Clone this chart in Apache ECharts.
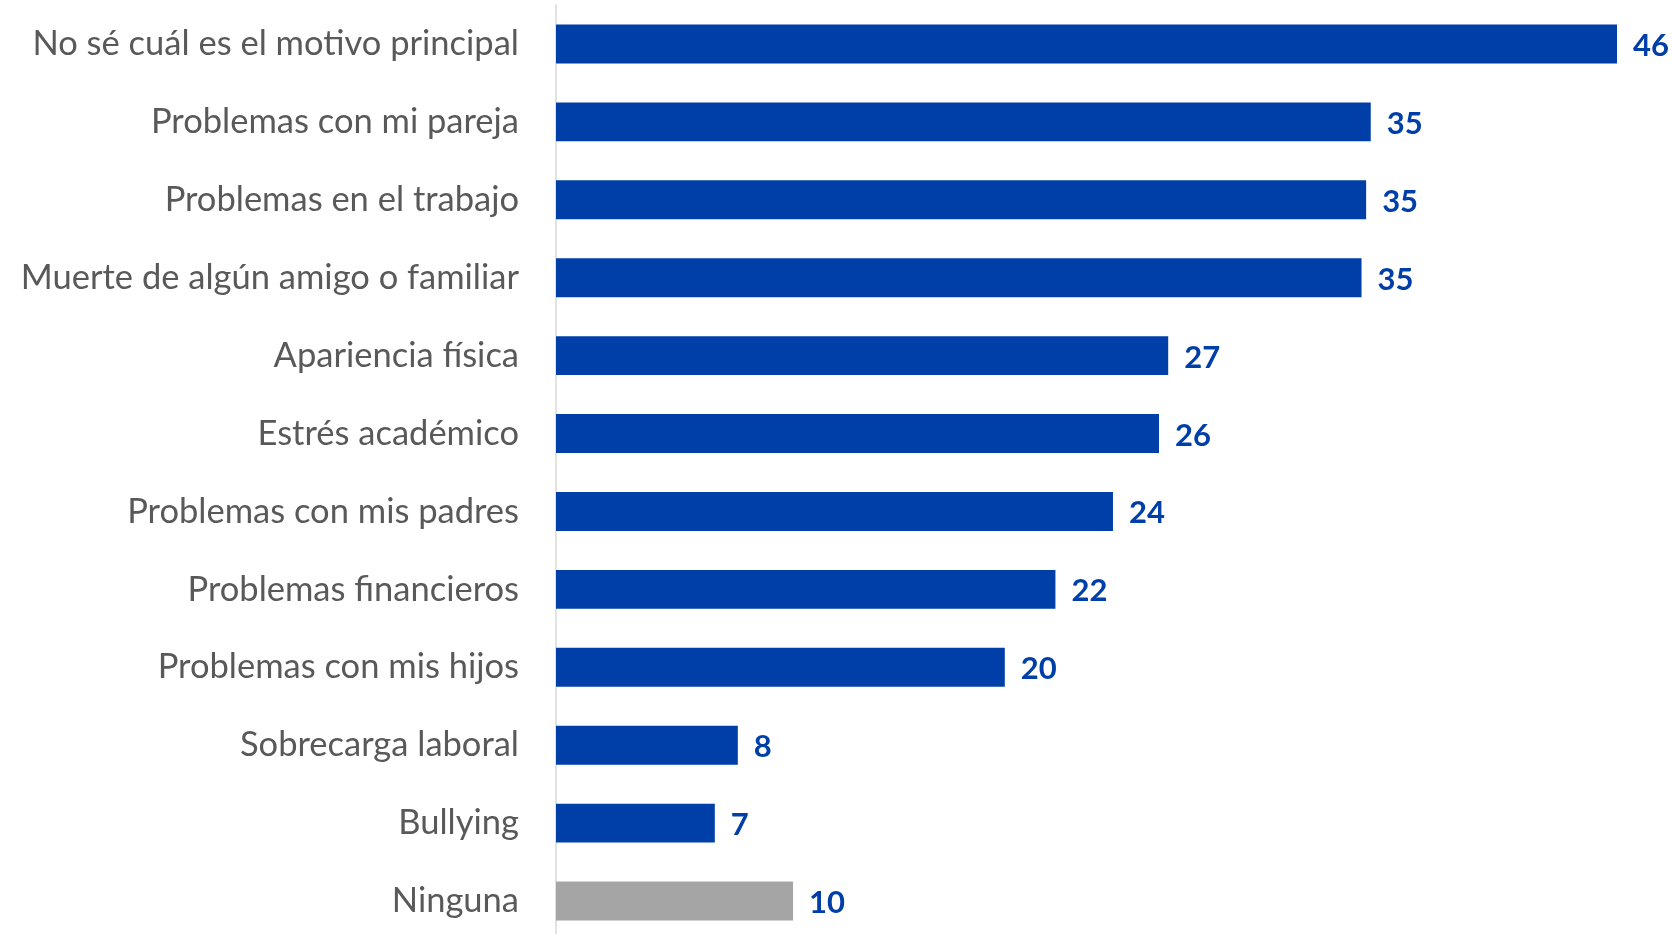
<!DOCTYPE html>
<html>
<head>
<meta charset="utf-8">
<script src="https://cdn.jsdelivr.net/npm/echarts@6/dist/echarts.min.js"></script>
<style>
html,body{margin:0;padding:0;background:#fff;}
#chart{width:1672px;height:934px;}
</style>
</head>
<body>
<div id="chart"></div>
<script>
const categories = [
  "No sé cuál es el motivo principal",
  "Problemas con mi pareja",
  "Problemas en el trabajo",
  "Muerte de algún amigo o familiar",
  "Apariencia física",
  "Estrés académico",
  "Problemas con mis padres",
  "Problemas financieros",
  "Problemas con mis hijos",
  "Sobrecarga laboral",
  "Bullying",
  "Ninguna"
];
const values = [46.1, 35.4, 35.2, 35.0, 26.6, 26.2, 24.2, 21.7, 19.5, 7.9, 6.9, 10.3];
const neutralCategory = "Ninguna";

const chart = echarts.init(document.getElementById('chart'));
chart.setOption({
  animation: false,
  backgroundColor: '#ffffff',
  grid: { left: 556, top: 5, width: 1061, height: 935, containLabel: false, outerBoundsMode: 'none' },
  xAxis: {
    type: 'value', min: 0, max: 'dataMax', show: false,
    splitLine: { show: false }
  },
  yAxis: {
    type: 'category', data: categories, inverse: true,
    axisLine: { show: true, lineStyle: { color: '#D9D9D9', width: 1.5 } },
    axisTick: { show: false },
    axisLabel: {
      margin: 37, color: '#595959', fontSize: 34.5,
      fontFamily: 'Lato, "Open Sans", sans-serif'
    }
  },
  series: [{
    type: 'bar',
    data: values,
    barCategoryGap: '50%',
    itemStyle: {
      color: p => categories[p.dataIndex] === neutralCategory ? '#A5A5A5' : '#003FA8'
    },
    label: {
      show: true, position: 'right', distance: 16, offset: [0, 2],
      color: '#003FA8', fontWeight: 'bold', fontSize: 31,
      fontFamily: 'Lato, "Open Sans", sans-serif',
      formatter: p => Math.round(p.value)
    }
  }]
});
</script>
</body>
</html>
